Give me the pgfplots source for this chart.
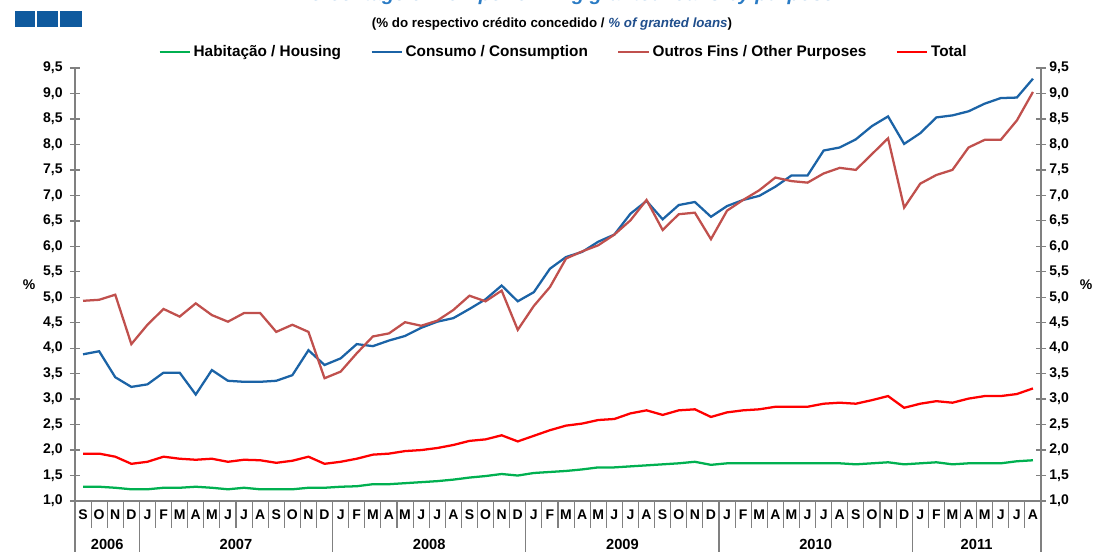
\documentclass[border=0pt]{standalone}
\usepackage{pgfplots}
\pgfplotsset{compat=1.18}
\usepackage{pgfplotstable}
\usepackage{fontspec}
\setmainfont{Liberation Sans}
\definecolor{habgreen}{HTML}{00B050}
\definecolor{conblue}{HTML}{1B63A6}
\definecolor{outbrown}{HTML}{C0504D}
\definecolor{totred}{HTML}{FF0000}
\definecolor{axgray}{HTML}{808080}
\definecolor{sqblue}{HTML}{0F5A9E}
\definecolor{titleblue}{HTML}{2A7BC4}
\definecolor{subblue}{HTML}{1F4E8C}

% i = month index, 0 = Sep 2006 ... 59 = Aug 2011
\pgfplotstableread{
i hab con out tot
0 1.28 3.88 4.93 1.93
1 1.28 3.94 4.95 1.93
2 1.26 3.43 5.05 1.87
3 1.23 3.24 4.08 1.73
4 1.23 3.29 4.46 1.77
5 1.26 3.52 4.77 1.87
6 1.26 3.52 4.62 1.83
7 1.28 3.09 4.88 1.81
8 1.26 3.57 4.65 1.83
9 1.23 3.36 4.52 1.77
10 1.26 3.34 4.69 1.81
11 1.23 3.34 4.69 1.80
12 1.23 3.36 4.32 1.75
13 1.23 3.47 4.46 1.79
14 1.26 3.96 4.32 1.87
15 1.26 3.67 3.41 1.73
16 1.28 3.80 3.54 1.77
17 1.29 4.08 3.90 1.83
18 1.33 4.04 4.23 1.91
19 1.33 4.15 4.29 1.93
20 1.35 4.24 4.51 1.98
21 1.37 4.40 4.44 2.00
22 1.39 4.52 4.54 2.04
23 1.42 4.59 4.75 2.10
24 1.46 4.77 5.03 2.18
25 1.49 4.96 4.92 2.21
26 1.53 5.23 5.13 2.29
27 1.50 4.92 4.36 2.17
28 1.55 5.10 4.83 2.28
29 1.57 5.56 5.20 2.39
30 1.59 5.79 5.76 2.48
31 1.62 5.89 5.90 2.52
32 1.66 6.09 6.02 2.59
33 1.66 6.23 6.23 2.61
34 1.68 6.64 6.51 2.72
35 1.70 6.89 6.91 2.78
36 1.72 6.53 6.32 2.69
37 1.74 6.81 6.63 2.78
38 1.77 6.87 6.66 2.80
39 1.71 6.58 6.14 2.65
40 1.74 6.79 6.70 2.74
41 1.74 6.91 6.91 2.78
42 1.74 6.99 7.10 2.80
43 1.74 7.17 7.35 2.85
44 1.74 7.39 7.28 2.85
45 1.74 7.39 7.25 2.85
46 1.74 7.88 7.43 2.91
47 1.74 7.94 7.54 2.93
48 1.72 8.10 7.50 2.91
49 1.74 8.36 7.81 2.98
50 1.76 8.55 8.12 3.06
51 1.72 8.01 6.76 2.83
52 1.74 8.22 7.23 2.91
53 1.76 8.53 7.40 2.96
54 1.72 8.57 7.50 2.93
55 1.74 8.65 7.94 3.01
56 1.74 8.80 8.09 3.06
57 1.74 8.91 8.09 3.06
58 1.78 8.92 8.47 3.10
59 1.80 9.29 9.03 3.21
}\npl

\pgfplotsset{
  npl/.style={
    scale only axis, width=724.5pt, height=324.75pt,
    at={(0,0)}, anchor=south west,
    xmin=-0.5, xmax=59.5, ymin=1, ymax=9.5,
    ytick={1,1.5,2,2.5,3,3.5,4,4.5,5,5.5,6,6.5,7,7.5,8,8.5,9,9.5},
    tick align=center, major tick length=7.5pt,
    axis line style={draw=axgray, line width=1.1pt},
    ytick style={draw=axgray, line width=1pt},
    yticklabel style={font=\fontsize{10.5}{12}\selectfont\bfseries,
      /pgf/number format/fixed, /pgf/number format/fixed zerofill,
      /pgf/number format/precision=1, /pgf/number format/use comma,
      /pgf/number format/assume math mode=true},
  }
}

\begin{document}
\begin{tikzpicture}
\begin{axis}[npl,
  axis x line*=bottom, axis y line*=left,
  xtick={0,...,59}, xtick style={draw=none},
  xticklabels={S,O,N,D,J,F,M,A,M,J,J,A,S,O,N,D,J,F,M,A,M,J,J,A,S,O,N,D,J,F,M,A,M,J,J,A,S,O,N,D,J,F,M,A,M,J,J,A,S,O,N,D,J,F,M,A,M,J,J,A},
  xticklabel style={font=\fontsize{10.5}{12}\selectfont\bfseries, yshift=1pt},
  yticklabel style={xshift=-2pt},
  legend style={at={(0.506,1.037)}, anchor=center, draw=none, fill=none,
    legend columns=4, font=\fontsize{11.5}{13}\selectfont\bfseries,
    /tikz/every even column/.append style={column sep=20pt},
    legend cell align=left},
  legend image code/.code={\draw[#1] (0cm,0cm) -- (0.8cm,0cm);},
  every axis plot/.append style={line width=1.7pt, mark=none},
]
\addplot[habgreen] table[x=i, y=hab] {\npl};
\addlegendentry{Habitação / Housing}
\addplot[conblue] table[x=i, y=con] {\npl};
\addlegendentry{Consumo / Consumption}
\addplot[outbrown] table[x=i, y=out] {\npl};
\addlegendentry{Outros Fins / Other Purposes}
\addplot[totred] table[x=i, y=tot] {\npl};
\addlegendentry{Total}
\end{axis}
\begin{axis}[npl,
  axis x line=none, axis y line*=right,
  yticklabel style={xshift=-1pt},
]
\end{axis}

\begin{scope}[x=0.75pt, y=0.75pt]
  % month and year separators below the axis
  \foreach \k in {0,...,60} \draw[axgray, line width=0.8pt] (\k*16.1,0) -- (\k*16.1,-27);
  \foreach \k in {0,4,16,28,40,52,60} \draw[axgray, line width=0.8pt] (\k*16.1,0) -- (\k*16.1,-52);
  \foreach \c/\y in {2/2006,10/2007,22/2008,34/2009,46/2010,56/2011}
    \node[anchor=north, inner sep=0pt, font=\fontsize{11}{13}\selectfont\bfseries] at (\c*16.1,-38) {\y};
  % % labels
  \node[font=\fontsize{10.5}{12}\selectfont\bfseries] at (-46,216) {\%};
  \node[font=\fontsize{10.5}{12}\selectfont\bfseries] at (1011,216) {\%};
  % logo squares
  \fill[sqblue] (-60,490) rectangle (-40,474);
  \fill[sqblue] (-38,490) rectangle (-17,474);
  \fill[sqblue] (-15,490) rectangle (7,474);
  % title (cut at the top) and subtitle
  \node[anchor=base, inner sep=0pt, text=titleblue, font=\fontsize{15}{17}\selectfont\bfseries\itshape] at (491,500) {Percentage of non-performing granted loans by purpose};
  \node[font=\fontsize{10}{11}\selectfont\bfseries] at (477,477) {(\% do respectivo crédito concedido / \textcolor{subblue}{\textit{\% of granted loans}})};
\end{scope}
\pgfresetboundingbox
\useasboundingbox (-56.25pt,-37.5pt) rectangle (764.25pt,375.75pt);
\end{tikzpicture}
\end{document}
